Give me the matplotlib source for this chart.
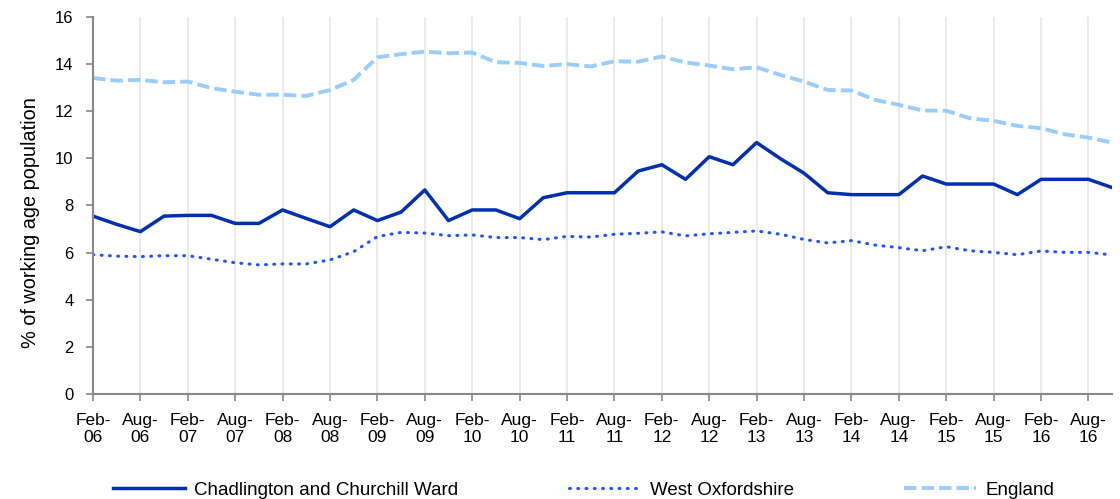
import matplotlib
matplotlib.use('Agg')
import matplotlib.pyplot as plt

plt.rcParams['font.family'] = ['Liberation Sans', 'DejaVu Sans']

# quarterly dates, Feb-06 .. Nov-16
months = ['Feb', 'May', 'Aug', 'Nov']
dates = [f'{m}-{y:02d}' for y in range(6, 17) for m in months]

chadlington = [7.55, 7.2, 6.89, 7.55, 7.58, 7.58, 7.24, 7.24, 7.81, 7.45,
               7.1, 7.81, 7.36, 7.72, 8.66, 7.36, 7.81, 7.81, 7.44, 8.33,
               8.54, 8.54, 8.54, 9.46, 9.73, 9.11, 10.07, 9.73, 10.67, 9.99,
               9.37, 8.54, 8.46, 8.46, 8.46, 9.25, 8.91, 8.91, 8.91, 8.46,
               9.11, 9.11, 9.11, 8.76]
west_oxon = [5.91, 5.85, 5.83, 5.87, 5.87, 5.72, 5.57, 5.48, 5.52, 5.52,
             5.69, 6.04, 6.68, 6.86, 6.83, 6.72, 6.75, 6.64, 6.64, 6.55,
             6.69, 6.66, 6.78, 6.82, 6.88, 6.71, 6.8, 6.86, 6.92, 6.78,
             6.56, 6.41, 6.51, 6.32, 6.21, 6.08, 6.25, 6.08, 6.01, 5.91,
             6.07, 6.01, 6.01, 5.9]
england = [13.41, 13.3, 13.33, 13.23, 13.26, 12.98, 12.83, 12.7, 12.7, 12.65,
           12.9, 13.33, 14.29, 14.42, 14.53, 14.46, 14.49, 14.08, 14.05, 13.92,
           14.0, 13.9, 14.12, 14.1, 14.32, 14.07, 13.94, 13.78, 13.87, 13.54,
           13.26, 12.9, 12.88, 12.48, 12.27, 12.03, 12.02, 11.7, 11.59, 11.38,
           11.28, 11.02, 10.88, 10.67]

x = list(range(len(dates)))

fig = plt.figure(figsize=(11.2, 4.99), dpi=100)
ax = fig.add_axes([0.083, 0.2104, 0.91, 0.7556])

ax.plot(x, chadlington, color='#0030b0', lw=2.5, label='Chadlington and Churchill Ward')
ax.plot(x, west_oxon, color='#2252ff', lw=2.2, linestyle=(0, (0.3, 2.4)),
        dash_capstyle='round', label='West Oxfordshire')
ax.plot(x, england, color='#99ccff', lw=2.8, linestyle=(0, (3.2, 1.3)),
        label='England')

ax.set_xlim(0, len(dates) - 1)
ax.set_ylim(0, 16)
ax.set_yticks(range(0, 17, 2))
ticks = x[::2]
ax.set_xticks(ticks)
ax.set_xticklabels([dates[i].replace('-', '-\n') for i in ticks],
                   family=['Liberation Sans Narrow', 'Liberation Sans'],
                   fontsize=12.5, linespacing=1.1)
ax.tick_params(axis='both', color='#888888', length=5, width=1.2)
ax.tick_params(axis='y', labelsize=12, pad=9)
ax.tick_params(axis='x', pad=9)

ax.grid(axis='x', color='#e6e6e6', lw=1.2)
ax.set_axisbelow(True)
for s in ['top', 'right']:
    ax.spines[s].set_visible(False)
for s in ['left', 'bottom']:
    ax.spines[s].set_color('#888888')
    ax.spines[s].set_linewidth(1.5)

ax.set_ylabel('% of working age population', fontsize=14.3)
ax.yaxis.set_label_coords(-0.052, 0.456)

fig.legend(loc='lower left', bbox_to_anchor=(113 / 1120, 0.0), ncol=3,
           frameon=False, fontsize=13.5, handlelength=3.84, handletextpad=0.48,
           columnspacing=5.9, borderpad=0, borderaxespad=0)

fig.savefig('out.png', dpi=100)
